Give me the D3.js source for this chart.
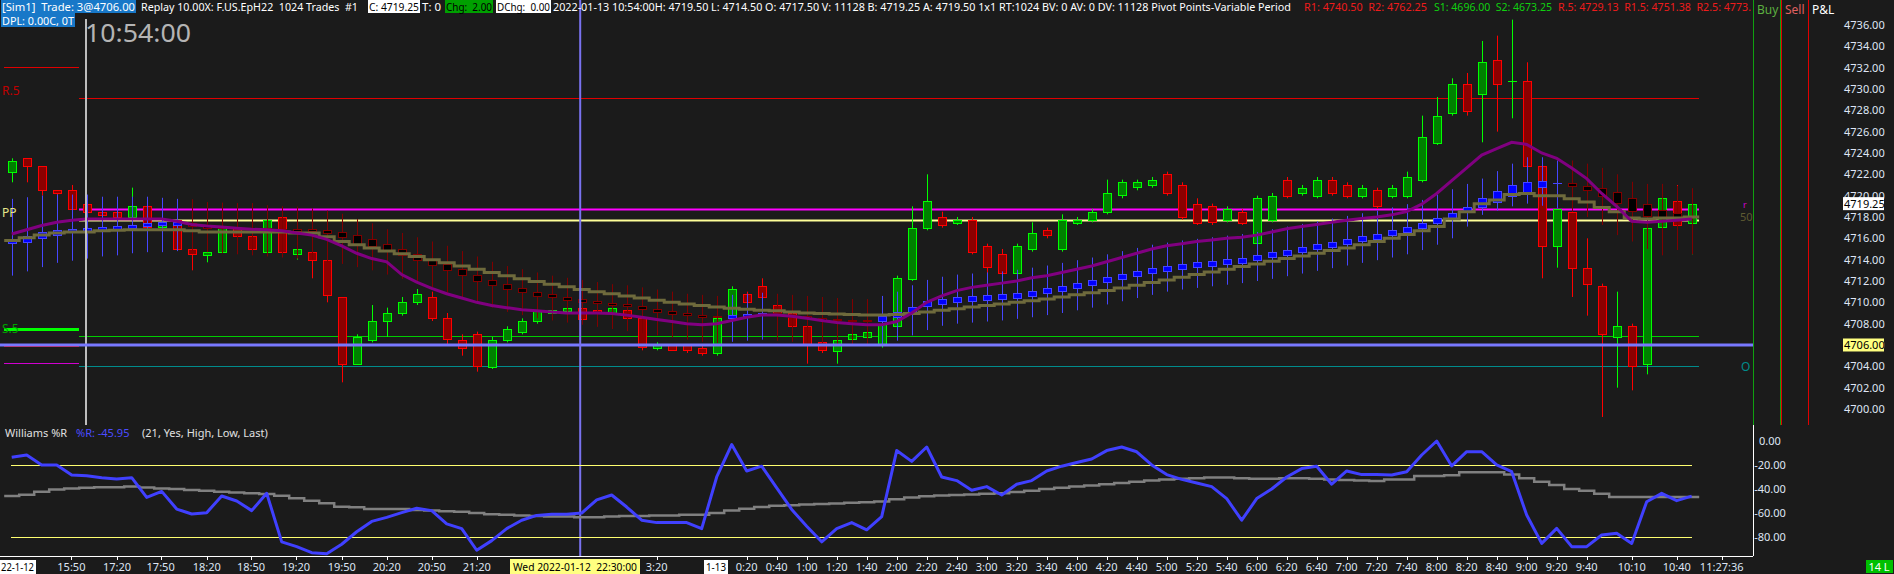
<!DOCTYPE html>
<html><head><meta charset="utf-8">
<script src="https://cdn.jsdelivr.net/npm/d3@7"></script>
<style>
html,body{margin:0;padding:0;background:#1b1b1b;overflow:hidden}
svg{display:block}
text{font-family:"Noto Sans",sans-serif;white-space:pre}
</style>
</head><body>
<svg id="c" width="1894" height="574"></svg>
<script>
// ---------------- DATA ----------------
const open = [4722.25,4723.5,4722.75,4720.5,4720.5,4719.25,4718.5,4718.5,4718.0,4719.0,
4717.0,4717.75,4715.0,4714.5,4714.75,4717.0,4716.25,4714.75,4718.0,4714.5,
4714.75,4714.0,4710.5,4704.25,4706.5,4708.25,4709.0,4710.0,4710.5,4708.5,
4706.5,4707.0,4704.0,4706.5,4707.25,4708.25,4709.0,4709.25,4709.5,4709.25,
4709.0,4709.25,4708.5,4705.75,4706.0,4706.0,4705.75,4705.25,4708.5,4710.75,
4711.5,4709.75,4709.0,4707.75,4706.25,4705.5,4706.5,4706.75,4706.0,4707.75,
4712.25,4717.0,4718.0,4717.5,4717.75,4715.25,4714.5,4712.75,4715.0,4716.75,
4715.0,4717.5,4717.75,4718.5,4720.0,4720.75,4721.0,4722.0,4721.0,4719.25,
4719.0,4717.75,4718.5,4715.5,4717.75,4721.5,4720.25,4720.0,4721.5,4721.0,
4720.0,4720.5,4720.0,4720.0,4721.5,4725.0,4727.75,4730.5,4729.5,4732.75,
4730.75,4730.75,4722.75,4715.25,4718.5,4713.25,4711.5,4706.75,4707.75,4704.25,
4717.0,4719.5,4717.5];
const high = [4723.5,4723.5,4722.75,4720.5,4721.0,4719.25,4718.5,4718.5,4720.75,4719.0,
4717.5,4717.75,4715.0,4714.75,4717.0,4717.0,4716.25,4717.75,4718.0,4715.0,
4714.75,4714.0,4710.5,4707.0,4709.75,4709.5,4710.5,4711.25,4711.0,4709.0,
4707.0,4707.25,4706.75,4707.75,4708.5,4709.5,4709.5,4709.75,4709.75,4709.5,
4709.75,4709.5,4708.75,4706.25,4706.0,4706.0,4706.0,4708.75,4711.5,4711.0,
4712.25,4710.0,4709.0,4708.0,4706.5,4706.75,4707.25,4707.5,4708.25,4712.5,
4719.0,4722.0,4718.5,4718.0,4718.0,4715.5,4715.0,4715.5,4717.5,4717.0,
4718.25,4718.0,4718.75,4721.5,4721.5,4721.5,4721.75,4722.25,4721.25,4719.75,
4719.25,4719.0,4718.75,4720.0,4720.25,4721.75,4721.0,4721.75,4721.75,4721.25,
4721.0,4720.75,4721.0,4722.25,4727.5,4729.25,4731.0,4731.5,4734.5,4735.0,
4736.5,4732.5,4722.75,4718.75,4718.5,4716.0,4711.75,4711.0,4708.0,4717.0,
4721.0,4721.0,4719.5];
const low = [4721.25,4721.25,4720.0,4720.0,4718.75,4718.5,4718.25,4718.0,4718.0,4717.0,
4717.0,4715.0,4713.0,4713.75,4714.75,4716.25,4714.5,4714.75,4714.5,4714.0,
4712.25,4710.0,4702.5,4704.25,4706.25,4706.75,4708.75,4709.75,4708.25,4706.0,
4705.0,4703.5,4703.75,4706.25,4707.0,4708.0,4708.75,4709.0,4708.25,4708.75,
4708.75,4708.25,4705.5,4705.5,4705.5,4705.25,4705.0,4705.0,4708.25,4709.75,
4710.25,4708.75,4707.5,4704.25,4705.25,4704.25,4706.0,4706.5,4705.75,4707.5,
4712.0,4716.75,4717.0,4717.25,4714.5,4712.25,4712.5,4712.5,4714.75,4716.0,
4714.75,4717.25,4717.5,4718.25,4719.75,4720.5,4720.75,4720.0,4717.75,4717.25,
4717.25,4717.5,4717.25,4715.25,4717.5,4719.75,4720.0,4719.75,4720.0,4719.75,
4719.75,4718.75,4719.75,4719.75,4721.25,4724.75,4727.5,4727.5,4725.0,4726.0,
4727.25,4722.75,4712.25,4713.25,4710.5,4708.75,4699.25,4702.0,4701.75,4703.25,
4714.5,4715.0,4714.5];
const close = [4723.25,4722.75,4720.5,4720.25,4718.75,4718.5,4718.25,4718.0,4719.0,4717.0,
4717.5,4715.0,4714.5,4714.75,4717.0,4716.25,4715.0,4717.75,4714.75,4715.0,
4714.0,4710.75,4704.25,4706.75,4708.25,4709.0,4710.0,4710.75,4708.5,4706.5,
4705.75,4704.0,4706.5,4707.5,4708.25,4709.25,4709.25,4709.5,4708.5,4709.0,
4709.5,4708.5,4705.75,4706.0,4705.5,4705.5,4705.25,4708.5,4711.25,4710.0,
4710.5,4709.0,4707.75,4706.0,4705.5,4706.5,4707.0,4707.25,4708.0,4712.25,
4717.0,4719.5,4717.25,4717.75,4714.75,4713.25,4712.75,4715.25,4716.5,4716.25,
4717.75,4717.75,4718.5,4720.25,4721.25,4721.25,4721.5,4720.25,4718.0,4717.5,
4717.5,4718.75,4717.5,4719.75,4720.0,4720.0,4720.75,4721.5,4720.25,4720.0,
4720.75,4719.0,4720.75,4721.75,4725.5,4727.5,4730.5,4728.0,4732.5,4730.5,
4730.75,4722.75,4715.25,4718.75,4713.25,4711.75,4707.0,4707.75,4704.0,4717.0,
4719.75,4717.25,4719.25];

// smoothed (secondary) candles
const sOpen = [4715.5,4715.7,4716.0,4716.3,4716.6,4716.7,4716.8,4716.9,4717.0,4717.1,
4717.2,4717.25,4717.4,4717.2,4717.1,4717.05,4717.0,4716.95,4716.9,4716.85,
4716.85,4716.75,4716.6,4716.3,4715.9,4715.5,4715.0,4714.5,4714.0,4713.6,
4713.1,4712.6,4712.1,4711.7,4711.3,4711.0,4710.75,4710.5,4710.3,4710.1,
4709.95,4709.8,4709.65,4709.4,4709.2,4709.0,4708.85,4708.7,4708.6,4708.8,
4708.95,4709.0,4708.85,4708.7,4708.55,4708.4,4708.35,4708.3,4708.25,4708.65,
4709.15,4709.65,4709.9,4710.05,4710.1,4710.2,4710.3,4710.45,4710.65,4710.85,
4711.1,4711.35,4711.6,4711.9,4712.2,4712.5,4712.8,4713.0,4713.15,4713.3,
4713.45,4713.6,4713.75,4714.0,4714.25,4714.5,4714.75,4715.0,4715.25,4715.5,
4715.75,4716.0,4716.3,4716.6,4717.0,4717.45,4717.95,4718.45,4719.0,4719.4,
4720.0,4720.4,4720.8,4721.15,4721.15,4720.9,4720.75,4720.3,4719.8,4719.2,
4718.7,4718.4,4718.1];
const sHigh = [4719.7,4719.85,4720.0,4720.1,4720.1,4720.1,4719.9,4719.9,4719.9,4719.9,
4719.8,4719.7,4719.66,4719.4,4719.35,4719.3,4719.3,4719.1,4719.0,4718.97,
4718.8,4718.6,4718.3,4717.8,4717.4,4716.85,4716.5,4716.1,4715.7,4715.3,
4714.8,4714.3,4713.8,4713.4,4713.1,4712.8,4712.5,4712.3,4712.1,4711.9,
4711.7,4711.6,4711.4,4711.2,4711.0,4710.8,4710.7,4710.6,4710.7,4710.8,
4710.9,4710.8,4710.7,4710.6,4710.5,4710.4,4710.3,4710.3,4710.6,4711.0,
4711.6,4712.1,4712.4,4712.6,4712.7,4712.8,4712.9,4713.05,4713.25,4713.45,
4713.7,4713.95,4714.2,4714.5,4714.8,4715.1,4715.4,4715.6,4715.8,4715.95,
4716.1,4716.25,4716.4,4716.6,4716.85,4717.1,4717.35,4717.6,4717.85,4718.1,
4718.35,4718.6,4718.9,4719.2,4719.6,4720.1,4720.6,4721.1,4721.6,4722.3,
4723.0,4723.6,4723.6,4723.3,4723.3,4723.0,4722.6,4722.0,4721.3,4721.1,
4721.1,4720.9,4720.7];
const sLow = [4712.5,4712.9,4713.3,4713.7,4713.9,4714.1,4714.3,4714.4,4714.6,4714.7,
4714.7,4714.8,4714.8,4714.7,4714.6,4714.5,4714.4,4714.3,4714.2,4714.1,
4714.0,4713.8,4713.6,4713.3,4713.0,4712.6,4712.2,4711.8,4711.4,4710.9,
4710.4,4709.9,4709.5,4709.1,4708.8,4708.5,4708.3,4708.1,4707.9,4707.7,
4707.5,4707.3,4707.1,4706.9,4706.7,4706.5,4706.3,4706.2,4706.3,4706.4,
4706.5,4706.4,4706.3,4706.1,4706.0,4705.9,4705.9,4705.9,4706.1,4706.4,
4706.9,4707.4,4707.8,4708.0,4708.1,4708.2,4708.3,4708.45,4708.6,4708.8,
4709.0,4709.25,4709.5,4709.8,4710.1,4710.4,4710.7,4711.0,4711.2,4711.35,
4711.5,4711.65,4711.8,4712.0,4712.2,4712.45,4712.7,4712.95,4713.2,4713.45,
4713.7,4713.95,4714.2,4714.5,4714.9,4715.4,4716.0,4717.1,4718.2,4718.6,
4719.0,4719.25,4719.05,4718.8,4718.5,4718.0,4717.25,4716.3,4715.7,4715.0,
4714.4,4714.9,4714.5];
const sClose = [4715.9,4716.25,4716.6,4716.75,4716.9,4717.0,4717.1,4717.2,4717.25,4717.4,
4717.5,4717.5,4717.15,4717.05,4717.0,4716.95,4716.9,4716.85,4716.8,4716.7,
4716.65,4716.5,4716.1,4715.5,4715.2,4714.9,4714.4,4713.9,4713.5,4713.0,
4712.5,4712.0,4711.6,4711.2,4710.9,4710.65,4710.45,4710.25,4710.05,4709.9,
4709.75,4709.6,4709.35,4709.15,4708.95,4708.8,4708.65,4708.6,4708.85,4708.95,
4709.0,4708.8,4708.65,4708.5,4708.35,4708.3,4708.25,4708.25,4708.7,4709.1,
4709.6,4710.1,4710.35,4710.5,4710.55,4710.65,4710.75,4710.9,4711.1,4711.3,
4711.55,4711.8,4712.05,4712.35,4712.65,4712.95,4713.25,4713.45,4713.6,4713.75,
4713.9,4714.05,4714.2,4714.45,4714.7,4714.95,4715.2,4715.45,4715.7,4715.95,
4716.2,4716.45,4716.75,4717.05,4717.45,4717.9,4718.4,4718.9,4719.8,4720.4,
4721.0,4721.3,4721.35,4721.15,4720.9,4720.5,4720.0,4719.3,4718.6,4718.1,
4718.0,4718.0,4718.0];

// olive stepped average and purple average
const olive = [4715.8,4716.05,4716.3,4716.5,4716.6,4716.6,4716.7,4716.75,4716.8,4716.8,
4716.8,4716.8,4716.7,4716.6,4716.6,4716.6,4716.6,4716.6,4716.6,4716.5,
4716.5,4716.15,4715.7,4715.4,4715.1,4714.8,4714.55,4714.3,4714.0,4713.7,
4713.4,4713.1,4712.8,4712.5,4712.2,4711.95,4711.7,4711.45,4711.2,4711.0,
4710.8,4710.6,4710.4,4710.2,4710.0,4709.85,4709.7,4709.55,4709.45,4709.35,
4709.25,4709.2,4709.1,4709.0,4708.95,4708.9,4708.85,4708.8,4708.8,4708.85,
4708.95,4709.1,4709.25,4709.4,4709.55,4709.7,4709.85,4710.0,4710.15,4710.3,
4710.5,4710.7,4710.9,4711.1,4711.35,4711.6,4711.85,4712.1,4712.35,4712.6,
4712.85,4713.1,4713.35,4713.6,4713.85,4714.1,4714.35,4714.6,4714.85,4715.1,
4715.4,4715.7,4716.0,4716.35,4716.7,4717.1,4717.8,4718.5,4719.25,4719.6,
4720.1,4720.2,4720.0,4720.0,4719.7,4719.4,4718.9,4718.5,4717.9,4717.8,
4717.9,4717.9,4718.0];
const purple = [4716.4,4716.8,4717.2,4717.5,4717.7,4717.8,4717.8,4717.8,4717.8,4717.8,
4717.8,4717.6,4717.3,4717.15,4717.05,4716.95,4716.85,4716.8,4716.7,4716.5,
4716.3,4715.9,4715.3,4714.6,4714.1,4713.8,4712.6,4711.9,4711.3,4710.8,
4710.4,4710.0,4709.7,4709.5,4709.3,4709.2,4709.1,4709.0,4709.0,4709.0,
4708.95,4708.8,4708.6,4708.4,4708.2,4708.0,4707.9,4708.0,4708.3,4708.6,
4708.8,4708.8,4708.7,4708.5,4708.3,4708.1,4708.0,4707.9,4707.9,4708.2,
4709.0,4710.0,4710.6,4711.1,4711.4,4711.6,4711.8,4712.0,4712.3,4712.5,
4712.8,4713.1,4713.4,4713.8,4714.2,4714.6,4715.0,4715.3,4715.5,4715.7,
4715.85,4716.0,4716.1,4716.3,4716.6,4716.9,4717.1,4717.3,4717.5,4717.7,
4717.85,4718.0,4718.2,4718.5,4719.2,4720.2,4721.4,4722.6,4723.8,4724.4,
4725.0,4724.8,4724.0,4723.5,4722.6,4721.6,4720.2,4719.0,4717.6,4717.5,
4717.6,4717.7,4717.8];

// Williams %R and its average
const wr = [-13.6,-11.7,-20,-20,-28.3,-28.9,-30.6,-31.7,-30.6,-47,
-42,-56.7,-60.8,-59.7,-45.8,-50,-58,-43.6,-84,-88,
-93,-94,-86,-75.6,-67,-63.6,-59.7,-56,-58,-69,
-73,-91,-83,-73,-66,-62,-61,-61,-60,-49,
-45,-55,-66,-68,-68,-68,-73,-30,-3,-25,
-21,-39,-57,-71,-84,-73,-68,-74,-63,-8,
-17,-5,-30,-33,-41,-38,-45,-36,-33,-25,
-21,-18,-15,-8,-5,-9,-20,-28,-32,-35,
-38,-48,-66,-48,-40,-30,-23,-21,-36,-25,
-28,-28,-28.3,-25.6,-11.7,0,-20.8,-8.9,-8.9,-20,
-25.6,-61.7,-85.3,-72.8,-88,-88,-78.3,-76.9,-85.3,-50.6,
-43.6,-49.7,-45.95];
const wrAvg = [-45.8,-44.8,-42.2,-40.5,-39.6,-39,-38.6,-38.6,-38,-38.8,
-39.5,-40,-40.8,-41.4,-42.2,-42.9,-43.5,-44.2,-45.6,-47.8,
-49.7,-51.9,-54.7,-55.3,-56.7,-56.7,-56.7,-57.5,-58,-58.5,
-59,-60,-61,-61.5,-62,-62.5,-63,-63,-63.5,-63.5,
-63,-62.5,-62.5,-62,-62,-61.5,-61.5,-60,-58,-56.5,
-55,-54,-53.5,-53,-52.5,-52,-51.5,-51,-50.5,-48.5,
-47,-46,-45.5,-45,-44.5,-44,-43.5,-42.5,-41.5,-40,
-39,-38,-37,-36,-35,-34,-33,-32,-31.5,-31,
-30.5,-30.5,-31,-31.5,-31.5,-31,-31,-31.5,-32,-32.5,
-33,-33.3,-32,-32,-29.2,-29.2,-28.5,-26.1,-26.1,-26.1,
-28,-31,-34,-36.7,-40,-41.5,-43.9,-46.7,-46.7,-46.7,
-46.7,-46.7,-46.7];
const wrBands = [-20, -80];
const wrTicks = [0, -20, -40, -60, -80];

// pivot levels (current period) and previous-period stubs
const pivR5 = 4729.13, pivC = 4718.75, pivPP = 4717.75, pivS5 = 4706.875, pivO = 4704.0;
const prevLevels = [4732.1, 4707.5, 4705.9, 4704.3];

// price axis
const priceTicks = d3.range(4700, 4737, 2);
const lastPrice = 4719.25, crossPrice = 4706.0;
const crossBar = 37.9, replayBar = 4.95;

// time axis (positions in bar units)
const timePos = [3.98,7.02,9.93,13,15.95,18.95,22,25,28,31,43,
49,51,53,55,57,59,61,63,65,67,69,71,73,75,77,79,81,83,85,87,89,91,93,95,97,99,101,103,105,108,111,114];
const timeLab = ['15:50','17:20','17:50','18:20','18:50','19:20','19:50','20:20','20:50','21:20','3:20',
'0:20','0:40','1:00','1:20','1:40','2:00','2:20','2:40','3:00','3:20','3:40','4:00','4:20','4:40','5:00','5:20','5:40','6:00','6:20','6:40','7:00','7:20','7:40','8:00','8:20','8:40','9:00','9:20','9:40','10:10','10:40','11:27:36'];

// ---------------- DRAW ----------------
const W = 1894, H = 574;
const svg = d3.select('#c');
svg.append('rect').attr('width', W).attr('height', H).attr('fill', '#1b1b1b');
const defs = svg.append('defs');
defs.append('clipPath').attr('id', 'clipMain').append('rect').attr('x', 0).attr('y', 0).attr('width', 1753).attr('height', 425);
defs.append('clipPath').attr('id', 'clipW').append('rect').attr('x', 0).attr('y', 425).attr('width', 1753).attr('height', 131);

const n = open.length;
const x = d3.scaleLinear().domain([0, 112]).range([11.7, 1691.7]);
const y = d3.scaleLinear().domain([4698.5, 4738.34]).range([425, 0]);
const wy = d3.scaleLinear().domain([-95.8, 13.3]).range([556, 425]);
const idx = d3.range(n);
const cx = i => Math.round(x(i));

// right-side columns
const cols = [[1753, '#10a010'], [1780, '#10a010'], [1781, '#e00000'], [1808, '#e00000']];
svg.selectAll('.col').data(cols).join('line')
  .attr('x1', d => d[0] + 0.5).attr('x2', d => d[0] + 0.5).attr('y1', 0).attr('y2', 425)
  .attr('stroke', d => d[1]).attr('stroke-width', 1);

const gm = svg.append('g').attr('clip-path', 'url(#clipMain)');

// pivot lines
const x0p = 79, x1p = 1699;
function hline(g, p, col, w, xa, xb) {
  g.append('line').attr('x1', xa).attr('x2', xb).attr('y1', Math.round(y(p)) + 0.5).attr('y2', Math.round(y(p)) + 0.5)
    .attr('stroke', col).attr('stroke-width', w);
}
hline(gm, pivR5, '#e00000', 1, x0p, x1p);
hline(gm, pivC, '#ff00ff', 2, x0p, x1p);
hline(gm, pivPP, '#ffff99', 2, x0p, x1p);
hline(gm, pivS5, '#00cc00', 1, x0p, x1p);
hline(gm, pivO, '#008b8b', 1, x0p, x1p);
const prevCols = ['#e00000', '#00ff00', '#e00000', '#d000d0'];
const prevW = [1, 3, 1, 1];
prevLevels.forEach((p, k) => hline(gm, p, prevCols[k], prevW[k], 4, 79));

// main candles
const up = i => close[i] >= open[i];
gm.append('g').selectAll('line').data(idx).join('line')
  .attr('x1', i => cx(i) + 0.5).attr('x2', i => cx(i) + 0.5)
  .attr('y1', i => y(high[i])).attr('y2', i => y(low[i]))
  .attr('stroke', i => up(i) ? '#00ff00' : '#ff0000').attr('stroke-width', 1);
gm.append('g').selectAll('rect').data(idx.filter(i => open[i] !== close[i])).join('rect')
  .attr('x', i => cx(i) - 4 + 0.5).attr('width', 8)
  .attr('y', i => Math.round(y(Math.max(open[i], close[i]))) + 0.5)
  .attr('height', i => Math.max(1, Math.round(Math.abs(y(open[i]) - y(close[i])))))
  .attr('fill', i => up(i) ? '#008000' : '#8b0000')
  .attr('stroke', i => up(i) ? '#00ff00' : '#ff0000').attr('stroke-width', 1);
gm.append('g').selectAll('line').data(idx.filter(i => open[i] === close[i])).join('line')
  .attr('x1', i => cx(i) - 4).attr('x2', i => cx(i) + 5)
  .attr('y1', i => Math.round(y(close[i])) + 0.5).attr('y2', i => Math.round(y(close[i])) + 0.5)
  .attr('stroke', '#00ff00').attr('stroke-width', 1);

// smoothed candles
const sup = i => sClose[i] >= sOpen[i];
gm.append('g').selectAll('line').data(idx).join('line')
  .attr('x1', i => cx(i) + 0.5).attr('x2', i => cx(i) + 0.5)
  .attr('y1', i => y(sHigh[i])).attr('y2', i => y(sLow[i]))
  .attr('stroke', i => sup(i) ? '#4646ff' : '#800000').attr('stroke-width', 1);
gm.append('g').selectAll('rect').data(idx.filter(i => sOpen[i] !== sClose[i])).join('rect')
  .attr('x', i => cx(i) - 4 + 0.5).attr('width', 8)
  .attr('y', i => Math.round(y(Math.max(sOpen[i], sClose[i]))) + 0.5)
  .attr('height', i => Math.max(1, Math.round(Math.abs(y(sOpen[i]) - y(sClose[i])))))
  .attr('fill', i => sup(i) ? '#0000ff' : '#000000')
  .attr('stroke', i => sup(i) ? '#4646ff' : '#800000').attr('stroke-width', 1);
gm.append('g').selectAll('line').data(idx.filter(i => sOpen[i] === sClose[i])).join('line')
  .attr('x1', i => cx(i) - 4).attr('x2', i => cx(i) + 5)
  .attr('y1', i => Math.round(y(sClose[i])) + 0.5).attr('y2', i => Math.round(y(sClose[i])) + 0.5)
  .attr('stroke', '#4646ff').attr('stroke-width', 1);

// olive step line
const stepPts = (arr, sc) => arr.flatMap((v, i) => [[x(i) - 7.5, sc(v)], [x(i) + 7.5, sc(v)]]);
gm.append('path').attr('d', d3.line()(stepPts(olive, y)))
  .attr('fill', 'none').attr('stroke', '#6e6a3c').attr('stroke-width', 3);
// purple line
gm.append('path').attr('d', d3.line().x((d, i) => x(i)).y(d => y(d))(purple))
  .attr('fill', 'none').attr('stroke', '#800080').attr('stroke-width', 3);

// crosshair & replay marker
svg.append('line').attr('x1', 86).attr('x2', 86).attr('y1', 19).attr('y2', 425)
  .attr('stroke', '#bdbdbd').attr('stroke-width', 2);
svg.append('line').attr('x1', 0).attr('x2', 1753).attr('y1', y(crossPrice)).attr('y2', y(crossPrice))
  .attr('stroke', '#7878ff').attr('stroke-width', 3);
const xc = x(crossBar);
svg.append('line').attr('x1', xc).attr('x2', xc).attr('y1', 0).attr('y2', 556)
  .attr('stroke', '#7a72f0').attr('stroke-width', 2);

// left labels
function t(str, xx, yy, col, size, anchor) {
  return svg.append('text').attr('x', xx).attr('y', yy).attr('fill', col)
    .attr('font-size', size || 11).attr('text-anchor', anchor || 'start').text(str);
}
t('R.5', 2, Math.round(y(pivR5)) - 3, '#c00000', 12);
t('PP', 2, Math.round(y(pivPP)) - 3, '#e6e68a', 12);
t('S.5', 2, Math.round(y(pivS5)) - 3, '#00a000', 12);
// right markers
t('r', 1743, y(pivC) - 1, '#d000d0', 9);
t('50', 1740, y(pivPP) + 1, '#5e5a32', 11);
t('O', 1741, y(pivO) + 5, '#008b8b', 12);

// price axis
svg.append('g').selectAll('text').data(priceTicks).join('text')
  .attr('x', 1844).attr('y', d => y(d) + 4).attr('fill', '#dfe6f5').attr('font-size', 11)
  .text(d => d.toFixed(2));
svg.append('rect').attr('x', 1843).attr('y', y(lastPrice) - 6.5).attr('width', 41).attr('height', 13).attr('fill', '#ffffff');
t(lastPrice.toFixed(2), 1844, y(lastPrice) + 4, '#000000', 11);
svg.append('rect').attr('x', 1843).attr('y', y(crossPrice) - 6.5).attr('width', 41).attr('height', 13).attr('fill', '#ffff80');
t(crossPrice.toFixed(2), 1844, y(crossPrice) + 4, '#000000', 11);

// ---------------- Williams %R panel ----------------
const gw = svg.append('g').attr('clip-path', 'url(#clipW)');
wrBands.forEach(v => gw.append('line').attr('x1', 11).attr('x2', 1692)
  .attr('y1', Math.round(wy(v)) + 0.5).attr('y2', Math.round(wy(v)) + 0.5)
  .attr('stroke', '#ffff70').attr('stroke-width', 1));
gw.append('path').attr('d', d3.line()(stepPts(wrAvg, wy)))
  .attr('fill', 'none').attr('stroke', '#808080').attr('stroke-width', 2.5);
gw.append('path').attr('d', d3.line().x((d, i) => x(i)).y(d => wy(d))(wr))
  .attr('fill', 'none').attr('stroke', '#4040ff').attr('stroke-width', 3).attr('stroke-linejoin', 'round');
svg.append('line').attr('x1', 1753.5).attr('x2', 1753.5).attr('y1', 425).attr('y2', 556)
  .attr('stroke', '#ffffff').attr('stroke-width', 1);
svg.append('g').selectAll('text').data(wrTicks).join('text')
  .attr('x', 1770).attr('y', d => wy(d) + 4).attr('fill', '#dfe6f5').attr('font-size', 11)
  .attr('text-anchor', 'middle').text(d => d.toFixed(2));
t('Williams %R', 5, 437, '#e0e0e0', 11);
t('%R: -45.95', 76, 437, '#4c4cff', 11);
t('(21, Yes, High, Low, Last)', 142, 437, '#e0e0e0', 11);

// ---------------- time axis ----------------
svg.append('line').attr('x1', 0).attr('x2', 1753).attr('y1', 556.5).attr('y2', 556.5).attr('stroke', '#ffffff');
svg.append('g').selectAll('line').data(timePos).join('line')
  .attr('x1', d => Math.round(x(d)) + 0.5).attr('x2', d => Math.round(x(d)) + 0.5)
  .attr('y1', 556).attr('y2', 560).attr('stroke', '#ffffff');
svg.append('g').selectAll('text').data(timePos).join('text')
  .attr('x', d => x(d)).attr('y', 571).attr('fill', '#dfe6f5').attr('font-size', 11)
  .attr('text-anchor', 'middle').text((d, k) => timeLab[k]);
svg.append('rect').attr('x', 0).attr('y', 560).attr('width', 36).attr('height', 14).attr('fill', '#ffffff');
t('22-1-12', 1, 571, '#000000', 11).attr('textLength', 33).attr('lengthAdjust', 'spacingAndGlyphs');
svg.append('rect').attr('x', 704).attr('y', 560).attr('width', 24).attr('height', 14).attr('fill', '#ffffff');
t('1-13', 706, 571, '#000000', 11).attr('textLength', 20).attr('lengthAdjust', 'spacingAndGlyphs');
svg.append('rect').attr('x', 510).attr('y', 559).attr('width', 130).attr('height', 15).attr('fill', '#ffff80');
t('Wed 2022-01-12  22:30:00', 513, 571, '#000000', 11).attr('textLength', 124).attr('lengthAdjust', 'spacingAndGlyphs');
svg.append('rect').attr('x', 1866).attr('y', 560).attr('width', 27).attr('height', 13).attr('fill', '#00c000');
t('14 L', 1879, 571, '#ffffff', 11, 'middle');

// ---------------- header ----------------
function ht(str, x0, x1, yy, col, bg, by0, by1) {
  if (bg) svg.append('rect').attr('x', x0 - 1).attr('y', by0).attr('width', x1 - x0 + 2).attr('height', by1 - by0).attr('fill', bg);
  const e = svg.append('text').attr('x', x0).attr('y', yy).attr('fill', col).attr('font-size', 10.5).text(str);
  if (x1) e.attr('textLength', x1 - x0).attr('lengthAdjust', 'spacingAndGlyphs');
  return e;
}
ht('[Sim1]  Trade: 3@4706.00', 2, 135, 11, '#ffffff', '#1878c8', 0, 13);
ht('DPL: 0.00C, 0T', 2, 74, 24.5, '#ffffff', '#1878c8', 13, 27);
ht('Replay 10.00X: F.US.EpH22  1024 Trades  #1', 141, 358, 11, '#ffffff');
ht('C: 4719.25', 369, 419, 11, '#000000', '#ffffff', 0, 13);
ht('T: 0', 422, 441, 11, '#ffffff');
ht('Chg:  2.00', 446, 492, 11, '#000000', '#00a000', 0, 13);
ht('DChg:  0.00', 497, 550, 11, '#000000', '#ffffff', 0, 13);
ht('2022-01-13 10:54:00H: 4719.50 L: 4714.50 O: 4717.50 V: 11128 B: 4719.25 A: 4719.50 1x1 RT:1024 BV: 0 AV: 0 DV: 11128 Pivot Points-Variable Period', 553, 1291, 11, '#ffffff');
ht('R1: 4740.50  R2: 4762.25', 1304, 1427, 11, '#ee1c1c');
ht('S1: 4696.00  S2: 4673.25', 1434, 1552, 11, '#10d010');
ht('R.5: 4729.13  R1.5: 4751.38  R2.5: 4773.', 1558, 1751, 11, '#ee1c1c');
t('Buy', 1757, 14, '#5cb040', 12);
t('Sell', 1785, 14, '#e06060', 12);
t('P&L', 1812, 14, '#ffffff', 12);

// big replay clock
svg.append('text').attr('x', 85).attr('y', 41.5).attr('fill', '#b4b4b4').attr('font-size', 25.5)
  .attr('textLength', 106).attr('lengthAdjust', 'spacingAndGlyphs').text('10:54:00');
</script>
</body></html>
